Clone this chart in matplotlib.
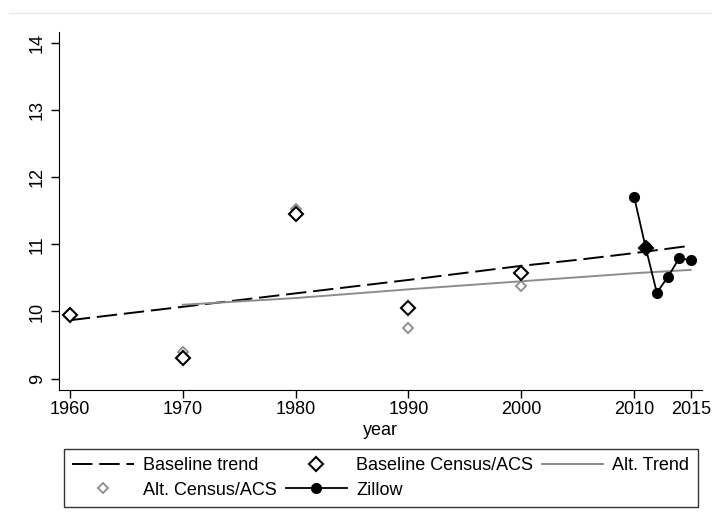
import matplotlib.pyplot as plt
from matplotlib.lines import Line2D

plt.rcParams['font.family'] = ['Liberation Sans', 'DejaVu Sans']

# Census/ACS points
census_anos = [1960, 1970, 1980, 1990, 2000, 2011]
base_census = [9.95, 9.30, 11.45, 10.05, 10.58, 10.95]
alt_census = [9.95, 9.40, 11.52, 9.75, 10.38, 10.95]

# Zillow series
zillow_anos = [2010, 2011, 2012, 2013, 2014, 2015]
zillow = [11.70, 10.96, 10.28, 10.52, 10.80, 10.76]

# trend lines
base_trend_anos = [1960, 1970, 1980, 1990, 2000, 2005, 2010, 2015]
base_trend = [9.87, 10.07, 10.27, 10.47, 10.68, 10.77, 10.87, 10.98]
alt_trend_anos = [1970, 1980, 1990, 2000, 2010, 2015]
alt_trend = [10.10, 10.20, 10.33, 10.45, 10.57, 10.62]

x_ticks = [1960, 1970, 1980, 1990, 2000, 2010, 2015]
y_ticks = [9, 10, 11, 12, 13, 14]

fig = plt.figure(figsize=(7.12, 5.23), dpi=100)
ax = fig.add_axes([58.5/712, 1 - 390/523, (702 - 58.5)/712, (390 - 32.3)/523])

# faint frame line at the top of the graph region
fig.add_artist(Line2D([9/712, 1.0], [1 - 13.3/523, 1 - 13.3/523], color='#e8e8e8', lw=1))

l_bt, = ax.plot(base_trend_anos, base_trend, color='black', lw=1.4,
                dashes=(10.5, 3.5), label='Baseline trend')
l_at, = ax.plot(alt_trend_anos, alt_trend, color='#8c8c8c', lw=1.4, label='Alt. Trend')
l_ac, = ax.plot(census_anos, alt_census, ls='none', marker='D', ms=5, mfc='white',
                mec='#8c8c8c', mew=1.3, label='Alt. Census/ACS')
l_bc, = ax.plot(census_anos, base_census, ls='none', marker='D', ms=7.5, mfc='white',
                mec='black', mew=1.5, label='Baseline Census/ACS')
l_z, = ax.plot(zillow_anos, zillow, color='black', lw=1.3, marker='o', ms=7,
               label='Zillow')

ax.set_xlim(1959, 2016)
ax.set_ylim(8.83, 14.16)
ax.set_xticks(x_ticks)
ax.set_yticks(y_ticks)
ax.set_yticklabels([str(v) for v in y_ticks], rotation=90, va='center')
ax.tick_params(labelsize=13, length=5.5, width=1, direction='out', pad=2.6)
ax.tick_params(axis='y', pad=3.6)
ax.spines['top'].set_visible(False)
ax.spines['right'].set_visible(False)
ax.set_xlabel('year', fontsize=13, labelpad=3)

handles = [l_bt, l_ac, l_bc, l_z, l_at]
labels = [h.get_label() for h in handles]
leg = fig.legend(handles, labels, ncol=3, loc='upper left',
                 bbox_to_anchor=(64.3/712, 1 - 449/523),
                 fontsize=13, handlelength=3.4, handletextpad=0.5,
                 frameon=True, fancybox=False, edgecolor='black', borderpad=0.45,
                 labelspacing=0.42, columnspacing=0.5, borderaxespad=0)
leg.get_frame().set_linewidth(1)

plt.savefig('out.png', dpi=100)
